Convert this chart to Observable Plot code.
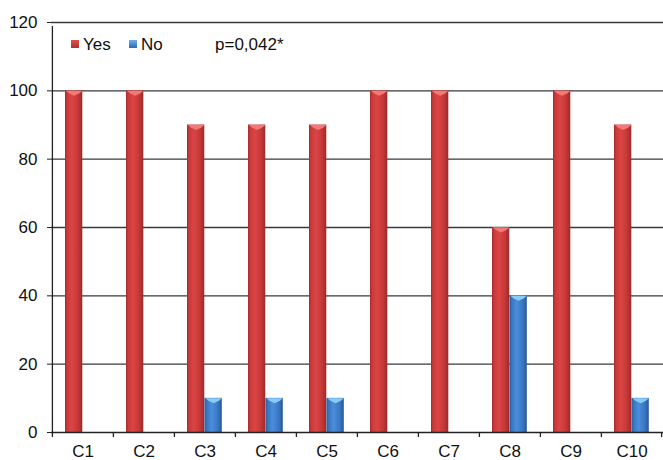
<!DOCTYPE html>
<html><head><meta charset="utf-8">
<script src="https://cdn.jsdelivr.net/npm/d3@7"></script>
<script src="https://cdn.jsdelivr.net/npm/@observablehq/plot@0.6"></script>
<style>
body{margin:0;background:#fff;font-family:"Liberation Sans",Arial,sans-serif}
#wrap{position:relative;width:663px;height:460px}
.leg{position:absolute;font-size:17px;color:#111;line-height:17px;white-space:nowrap}
.sw{position:absolute;width:8px;height:8px}
</style>
</head><body><div id="wrap"></div>
<script>
const categories = ["C1","C2","C3","C4","C5","C6","C7","C8","C9","C10"];
const yesValues = [100,100,90,90,90,100,100,60,100,90];
const noValues = [0,0,10,10,10,0,0,40,0,10];
const yTicks = [0,20,40,60,80,100,120];
const seriesNames = ["Yes","No"];
const annotation = "p=0,042*";

const data = categories.map((c,i)=>({cat:c, yes:yesValues[i], no:noValues[i]}));
const noData = data.filter(d=>d.no>0);
const W = 663, H = 460, mL = 51, mR = 0, mT = 22, mB = 28;
const bw = (W - mL - mR) / categories.length;
const barW = 17.5, gap = 13;

const bevel = {draw(ctx, size){ const h = barW/2 - 0.5; ctx.moveTo(-h,-2.5); ctx.lineTo(h,-2.5); ctx.lineTo(h-3,0); ctx.lineTo(0,2.5); ctx.lineTo(-h+3,0); ctx.closePath(); }};

const chart = Plot.plot({
  width: W, height: H,
  marginLeft: mL, marginRight: mR, marginTop: mT, marginBottom: mB,
  style: {fontFamily: '"Liberation Sans", Arial, sans-serif', fontSize: "17px", color: "#111", background: "#fff"},
  x: {domain: categories, padding: 0, axis: null, label: null},
  y: {domain: [0,120], axis: null, label: null},
  marks: [
    Plot.ruleY(yTicks.filter(d=>d>0), {stroke:"#3a3a3a", strokeWidth:1.3}),
    Plot.barY(data, {x:"cat", y:"yes", fill:"url(#gRed)", insetLeft:gap, insetRight:bw-gap-barW}),
    Plot.barY(noData, {x:"cat", y:"no", fill:"url(#gBlue)", insetLeft:gap+barW, insetRight:bw-gap-2*barW}),
    Plot.dot(data, {x:"cat", y:"yes", symbol:bevel, r:4, fill:"#f07a78", stroke:null, dx:gap+barW/2-bw/2, dy:2.5}),
    Plot.dot(noData, {x:"cat", y:"no", symbol:bevel, r:4, fill:"#8ccaf4", stroke:null, dx:gap+1.5*barW-bw/2, dy:2.5}),
    Plot.ruleY([0], {stroke:"#222", strokeWidth:1.3}),
    Plot.ruleX([0], {x: ()=>categories[0], dx:-bw/2, y1:0, y2:120, insetBottom:-4, stroke:"#222", strokeWidth:1.3}),
    Plot.ruleX(categories, {x:d=>d, dx:-bw/2, y1:0, y2:0, insetBottom:-5, stroke:"#222", strokeWidth:1.3}),
    Plot.ruleX([categories[categories.length-1]], {x:d=>d, dx:bw/2-1, y1:0, y2:0, insetBottom:-5, stroke:"#222", strokeWidth:1.3}),
    Plot.axisY({ticks: yTicks, tickSize:4, tickPadding:10, fontSize:17, stroke:"#222", label:null}),
    Plot.axisX({tickSize:0, tickPadding:12, fontSize:17, label:null})
  ]
});

const ns = "http://www.w3.org/2000/svg";
const defs = document.createElementNS(ns, "defs");
defs.innerHTML = `
<linearGradient id="gRed" x1="0" x2="1" y1="0" y2="0">
  <stop offset="0" stop-color="#a32b2b"/>
  <stop offset="0.12" stop-color="#c93a3a"/>
  <stop offset="0.4" stop-color="#dc4444"/>
  <stop offset="0.75" stop-color="#c53838"/>
  <stop offset="1" stop-color="#9c2a2a"/>
</linearGradient>
<linearGradient id="gBlue" x1="0" x2="1" y1="0" y2="0">
  <stop offset="0" stop-color="#2a5c9c"/>
  <stop offset="0.12" stop-color="#3874bd"/>
  <stop offset="0.4" stop-color="#4a8edb"/>
  <stop offset="0.75" stop-color="#3a78c4"/>
  <stop offset="1" stop-color="#2a5896"/>
</linearGradient>`;
chart.insertBefore(defs, chart.firstChild);

const wrap = document.getElementById("wrap");
wrap.appendChild(chart);

function addLegend(){
  const items = [
    {label: seriesNames[0], bg:"linear-gradient(#e05050,#b03030)", sx:71, tx:83},
    {label: seriesNames[1], bg:"linear-gradient(#70b0ec,#2e6ab5)", sx:129, tx:141}
  ];
  for (const it of items){
    const s = document.createElement("div"); s.className="sw";
    s.style.left = it.sx+"px"; s.style.top = "40px"; s.style.background = it.bg;
    wrap.appendChild(s);
    const t = document.createElement("div"); t.className="leg";
    t.style.left = it.tx+"px"; t.style.top = "36px"; t.textContent = it.label;
    wrap.appendChild(t);
  }
  const p = document.createElement("div"); p.className="leg";
  p.style.left = "215px"; p.style.top = "36px"; p.textContent = annotation;
  wrap.appendChild(p);
}
addLegend();
</script>
</body></html>
